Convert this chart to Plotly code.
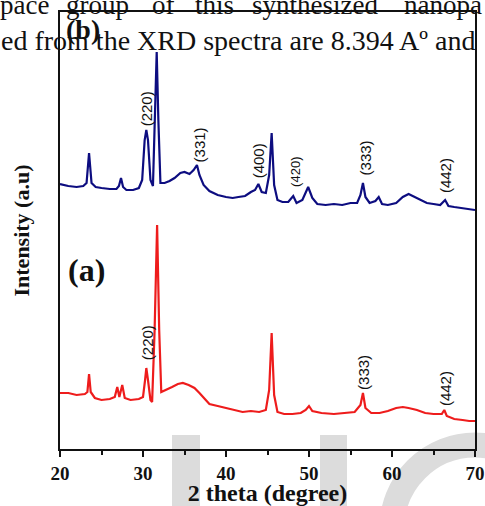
import plotly.graph_objects as go

# ---- data (2θ in degrees, intensity in arbitrary units) ----
two_theta_b = [20.0, 21.0, 22.0, 22.8, 23.2, 23.5, 23.8, 24.3, 25.0, 26.0, 26.8, 27.1, 27.35, 27.6,
               28.0, 28.8, 29.5, 29.9, 30.2, 30.4, 30.6, 30.9, 31.2, 31.45, 31.65, 31.85, 32.1,
               32.6, 33.2, 33.8, 34.5, 35.0, 35.6, 36.1, 36.5, 36.8, 37.3, 38.0, 39.0, 40.0,
               40.8, 41.5, 42.3, 43.0, 43.5, 43.9, 44.3, 44.8, 45.2, 45.5, 45.8, 46.2, 46.8,
               47.5, 48.1, 48.5, 49.2, 49.9, 50.4, 51.0, 52.0, 53.0, 54.0, 55.0, 55.8, 56.2,
               56.5, 56.8, 57.3, 58.0, 58.4, 58.8, 59.5, 60.5, 61.3, 62.0, 62.8, 63.5, 64.2,
               65.0, 65.8, 66.4, 66.8, 67.5, 68.5, 69.3, 70.0]
intensity_b = [265, 263, 262, 263, 266, 296, 266, 262, 261, 260, 260, 263, 271, 262,
               259, 259, 261, 269, 309, 319, 309, 269, 263, 329, 397, 329, 266,
               266, 268, 271, 276, 277, 275, 279, 284, 274, 264, 258, 254, 252,
               251, 252, 253, 257, 259, 265, 257, 256, 274, 316, 264, 249, 247,
               247, 253, 246, 249, 262, 251, 245, 244, 245, 244, 246, 246, 254,
               266, 252, 246, 248, 252, 245, 244, 246, 252, 255, 252, 249, 246,
               245, 244, 249, 243, 242, 241, 240, 239]

two_theta_a = [20.0, 21.0, 22.0, 23.0, 23.3, 23.5, 23.7, 24.2, 25.0, 26.0, 26.6, 26.9, 27.15, 27.5,
               27.8, 28.5, 29.5, 30.0, 30.25, 30.4, 30.6, 30.9, 31.1, 31.4, 31.7, 31.95, 32.2,
               32.8, 33.5, 34.2, 34.8, 35.5, 36.2, 36.8, 37.4, 38.0, 39.0, 40.0, 41.0, 42.0,
               43.0, 44.0, 44.8, 45.2, 45.5, 45.8, 46.2, 47.0, 48.0, 49.0, 49.6, 50.0, 50.4,
               51.5, 53.0, 54.5, 55.5, 56.2, 56.5, 56.8, 57.5, 58.5, 59.5, 60.5, 61.3, 62.0,
               63.0, 64.0, 65.0, 66.0, 66.3, 66.6, 67.5, 68.5, 69.3, 70.0]
intensity_a = [56, 56, 54, 55, 57, 75, 57, 51, 49, 50, 52, 62, 52, 64,
               51, 49, 50, 52, 69, 81, 69, 49, 47, 119, 224, 119, 57,
               59, 62, 65, 66, 64, 61, 56, 51, 45, 43, 41, 39, 37,
               38, 37, 39, 59, 116, 54, 37, 35, 35, 36, 39, 43, 38,
               36, 35, 36, 37, 44, 56, 41, 36, 36, 38, 41, 42, 41,
               39, 36, 35, 35, 39, 33, 30, 29, 28, 28]

x_ticks = [20, 30, 40, 50, 60, 70]

peaks_b = [("(220)", 30.4, 340), ("(331)", 36.8, 304), ("(400)", 43.9, 288),
           ("(420)", 48.3, 277), ("(333)", 56.8, 291), ("(442)", 66.4, 273)]
peaks_a = [("(220)", 30.5, 106), ("(333)", 56.5, 77), ("(442)", 66.4, 60)]

BLUE = "#0d0d80"
RED = "#ee1c1c"
WM = "#dcdcdc"

W, H = 485, 506
L, R, T, B = 60, 10, 12, 57
pw, ph = W - L - R, H - T - B


def px(xp):
    return (xp - L) / pw


def py(yp):
    return (H - B - yp) / ph


fig = go.Figure()
fig.add_trace(go.Scatter(x=two_theta_b, y=intensity_b, mode="lines",
                         line=dict(color=BLUE, width=2.2), showlegend=False))
fig.add_trace(go.Scatter(x=two_theta_a, y=intensity_a, mode="lines",
                         line=dict(color=RED, width=2.2), showlegend=False))

anns = []
for txt, x, y in peaks_b:
    anns.append(dict(x=x, y=y, xref="x", yref="y", text=txt, textangle=-90, showarrow=False,
                     font=dict(family="Liberation Sans", size=15 if txt != "(420)" else 13, color="#111")))
for txt, x, y in peaks_a:
    anns.append(dict(x=x, y=y, xref="x", yref="y", text=txt, textangle=-90, showarrow=False,
                     font=dict(family="Liberation Sans", size=15, color="#111")))

anns.append(dict(x=px(64), y=py(30), xref="paper", yref="paper", text="<b>(b)</b>",
                 showarrow=False, xanchor="left", yanchor="middle",
                 font=dict(family="Liberation Serif", size=28, color="#111")))
anns.append(dict(x=px(66), y=py(270), xref="paper", yref="paper", text="<b>(a)</b>",
                 showarrow=False, xanchor="left", yanchor="middle",
                 font=dict(family="Liberation Serif", size=32, color="#111")))

# overlapping page text above the figure
line1_words = [("pace", -2), ("group", 64), ("of", 150), ("this", 193), ("synthesized", 250), ("nanopa", 402)]
for w, xl in line1_words:
    anns.append(dict(x=px(xl), y=py(16), xref="paper", yref="paper", text=w, showarrow=False,
                     xanchor="left", yanchor="bottom", yshift=-6,
                     font=dict(family="Liberation Serif", size=27, color="#111")))
anns.append(dict(x=px(-1), y=py(52), xref="paper", yref="paper",
                 text="ed from the XRD spectra are 8.394 A\u00ba and", showarrow=False,
                 xanchor="left", yanchor="bottom", yshift=-6,
                 font=dict(family="Liberation Serif", size=28, color="#111")))

fig.update_layout(
    width=W, height=H,
    margin=dict(l=L, r=R, t=T, b=B, autoexpand=False),
    paper_bgcolor="white", plot_bgcolor="rgba(0,0,0,0)",
    annotations=anns,
    xaxis=dict(range=[20, 70], tickvals=x_ticks, ticktext=[f"<b>{v}</b>" for v in x_ticks],
               ticks="outside", ticklen=6, tickwidth=2, tickcolor="#111",
               minor=dict(ticks="outside", ticklen=4, tickwidth=2, tickcolor="#111", dtick=5),
               showline=True, linecolor="#111", linewidth=2, mirror=True,
               showgrid=False, zeroline=False, automargin=False,
               tickfont=dict(family="Liberation Serif", size=19, color="#111"),
               title=dict(text="<b>2 theta (degree)</b>", standoff=2,
                          font=dict(family="Liberation Serif", size=24, color="#111"))),
    yaxis=dict(range=[0, 437], showticklabels=False, ticks="",
               showline=True, linecolor="#111", linewidth=2, mirror=True,
               showgrid=False, zeroline=False, automargin=False,
               title=dict(text="<b>Intensity (a.u)</b>", standoff=22,
                          font=dict(family="Liberation Serif", size=22, color="#111"))),
    shapes=[
        dict(type="rect", xref="paper", yref="paper", x0=px(172), x1=px(200), y0=py(435), y1=py(506),
             fillcolor=WM, line=dict(width=0), layer="below"),
        dict(type="rect", xref="paper", yref="paper", x0=px(320), x1=px(347), y0=py(435), y1=py(506),
             fillcolor=WM, line=dict(width=0), layer="below"),
        dict(type="circle", xref="paper", yref="paper", x0=px(475 - 83), x1=px(475 + 83),
             y0=py(528 + 83), y1=py(528 - 83), fillcolor="rgba(0,0,0,0)",
             line=dict(color=WM, width=25), layer="below"),
    ],
)

fig.write_html("out.html")
